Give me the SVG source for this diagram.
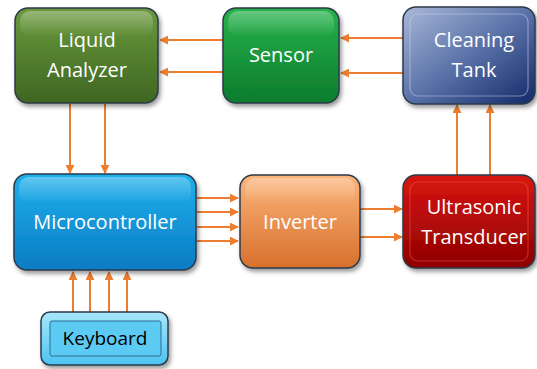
<svg xmlns="http://www.w3.org/2000/svg" width="537" height="369" viewBox="0 0 537 369">
  <defs>
    <linearGradient id="gLiquid" x1="0" y1="0" x2="0" y2="1">
      <stop offset="0" stop-color="#6a9a3c"/>
      <stop offset="1" stop-color="#3f6622"/>
    </linearGradient>
    <linearGradient id="gSensor" x1="0" y1="0" x2="0" y2="1">
      <stop offset="0" stop-color="#26b24a"/>
      <stop offset="1" stop-color="#0d7c2e"/>
    </linearGradient>
    <linearGradient id="gTank" x1="0" y1="0" x2="1" y2="1">
      <stop offset="0" stop-color="#a9b8d8"/>
      <stop offset="0.5" stop-color="#5a72a8"/>
      <stop offset="1" stop-color="#14296a"/>
    </linearGradient>
    <linearGradient id="gMicro" x1="0" y1="0" x2="0" y2="1">
      <stop offset="0" stop-color="#1fb0ec"/>
      <stop offset="1" stop-color="#0a7cc4"/>
    </linearGradient>
    <linearGradient id="gInverter" x1="0" y1="0" x2="0" y2="1">
      <stop offset="0" stop-color="#fbb47a"/>
      <stop offset="1" stop-color="#d8702c"/>
    </linearGradient>
    <linearGradient id="gTrans" x1="0" y1="0" x2="0" y2="1">
      <stop offset="0" stop-color="#d81612"/>
      <stop offset="1" stop-color="#8e0000"/>
    </linearGradient>
    <linearGradient id="gKey" x1="0" y1="0" x2="0" y2="1">
      <stop offset="0" stop-color="#a8e6fb"/>
      <stop offset="1" stop-color="#4cc4f2"/>
    </linearGradient>
    <linearGradient id="gShine" x1="0" y1="0" x2="0" y2="1">
      <stop offset="0" stop-color="#ffffff" stop-opacity="0.3"/>
      <stop offset="1" stop-color="#ffffff" stop-opacity="0"/>
    </linearGradient>
    <filter id="shadow" x="-10%" y="-10%" width="125%" height="130%">
      <feDropShadow dx="2" dy="3" stdDeviation="2" flood-color="#000" flood-opacity="0.4"/>
    </filter>
    <marker id="arrow" viewBox="0 0 10 10" refX="9" refY="5" markerWidth="4.5" markerHeight="4.5" orient="auto-start-reverse">
      <path d="M0,0 L10,5 L0,10 z" fill="#ed7d31"/>
    </marker>
    <style>
      .box { stroke: #2b3a4a; stroke-width: 1.5; filter: url(#shadow); }
      .shine { fill: url(#gShine); }
      .lbl { font-family: "Open Sans", "Liberation Sans", sans-serif; font-size: 20px; fill: #ffffff; text-anchor: middle; }
      .dark { fill: #000000; font-size: 19px; }
      .wire { stroke: #ed7d31; stroke-width: 2; fill: none; marker-end: url(#arrow); }
    </style>
  </defs>

  <!-- connectors -->
  <g id="connectors">
    <!-- cleaning tank to sensor -->
    <line class="wire" x1="403" y1="38" x2="341" y2="38"/>
    <line class="wire" x1="403" y1="73" x2="341" y2="73"/>
    <!-- sensor to liquid analyzer -->
    <line class="wire" x1="223" y1="40" x2="160" y2="40"/>
    <line class="wire" x1="223" y1="72" x2="160" y2="72"/>
    <!-- liquid analyzer to microcontroller -->
    <line class="wire" x1="70" y1="104" x2="70" y2="173"/>
    <line class="wire" x1="105" y1="104" x2="105" y2="173"/>
    <!-- microcontroller to inverter -->
    <line class="wire" x1="197" y1="198" x2="238" y2="198"/>
    <line class="wire" x1="197" y1="212" x2="238" y2="212"/>
    <line class="wire" x1="197" y1="227" x2="238" y2="227"/>
    <line class="wire" x1="197" y1="241" x2="238" y2="241"/>
    <!-- inverter to transducer -->
    <line class="wire" x1="360" y1="209" x2="402" y2="209"/>
    <line class="wire" x1="360" y1="237" x2="402" y2="237"/>
    <!-- transducer to cleaning tank -->
    <line class="wire" x1="457" y1="175" x2="457" y2="105"/>
    <line class="wire" x1="490" y1="175" x2="490" y2="105"/>
    <!-- keyboard to microcontroller -->
    <line class="wire" x1="73" y1="312" x2="73" y2="272"/>
    <line class="wire" x1="90" y1="312" x2="90" y2="272"/>
    <line class="wire" x1="109" y1="312" x2="109" y2="272"/>
    <line class="wire" x1="127" y1="312" x2="127" y2="272"/>
  </g>

  <g id="liquid-analyzer">
    <rect class="box" x="15" y="8" width="143" height="95" rx="13" fill="url(#gLiquid)"/>
    <rect class="shine" x="20" y="11" width="133" height="26" rx="10"/>
    <text class="lbl" x="87" y="47">Liquid</text>
    <text class="lbl" x="87" y="77">Analyzer</text>
  </g>

  <g id="sensor">
    <rect class="box" x="223" y="8" width="116" height="95" rx="13" fill="url(#gSensor)"/>
    <rect class="shine" x="228" y="11" width="106" height="26" rx="10"/>
    <text class="lbl" x="281" y="62">Sensor</text>
  </g>

  <g id="cleaning-tank">
    <rect class="box" x="403" y="7" width="132" height="97" rx="13" fill="url(#gTank)"/>
    <rect x="410" y="14" width="118" height="82" rx="8" fill="none" stroke="#c8d2ea" stroke-opacity="0.5" stroke-width="1.2"/>
    <text class="lbl" x="474" y="47">Cleaning</text>
    <text class="lbl" x="474" y="77">Tank</text>
  </g>

  <g id="microcontroller">
    <rect class="box" x="14" y="174" width="182" height="96" rx="13" fill="url(#gMicro)"/>
    <rect class="shine" x="19" y="177" width="172" height="26" rx="10"/>
    <text class="lbl" x="105" y="229">Microcontroller</text>
  </g>

  <g id="inverter">
    <rect class="box" x="240" y="175" width="120" height="93" rx="13" fill="url(#gInverter)"/>
    <rect class="shine" x="245" y="178" width="110" height="26" rx="10"/>
    <text class="lbl" x="300" y="229">Inverter</text>
  </g>

  <g id="ultrasonic-transducer">
    <rect class="box" x="403" y="175" width="132" height="93" rx="13" fill="url(#gTrans)"/>
    <rect x="410" y="182" width="118" height="79" rx="8" fill="none" stroke="#ff6a60" stroke-opacity="0.4" stroke-width="1.2"/>
    <text class="lbl" x="474" y="214">Ultrasonic</text>
    <text class="lbl" x="474" y="244">Transducer</text>
  </g>

  <g id="keyboard">
    <rect class="box" x="41" y="312" width="127" height="53" rx="9" fill="url(#gKey)"/>
    <rect x="50" y="321" width="111" height="35" rx="2" fill="#5ccbf4" stroke="#2a6f96" stroke-width="1"/>
    <text class="lbl dark" x="105" y="345">Keyboard</text>
  </g>
</svg>
